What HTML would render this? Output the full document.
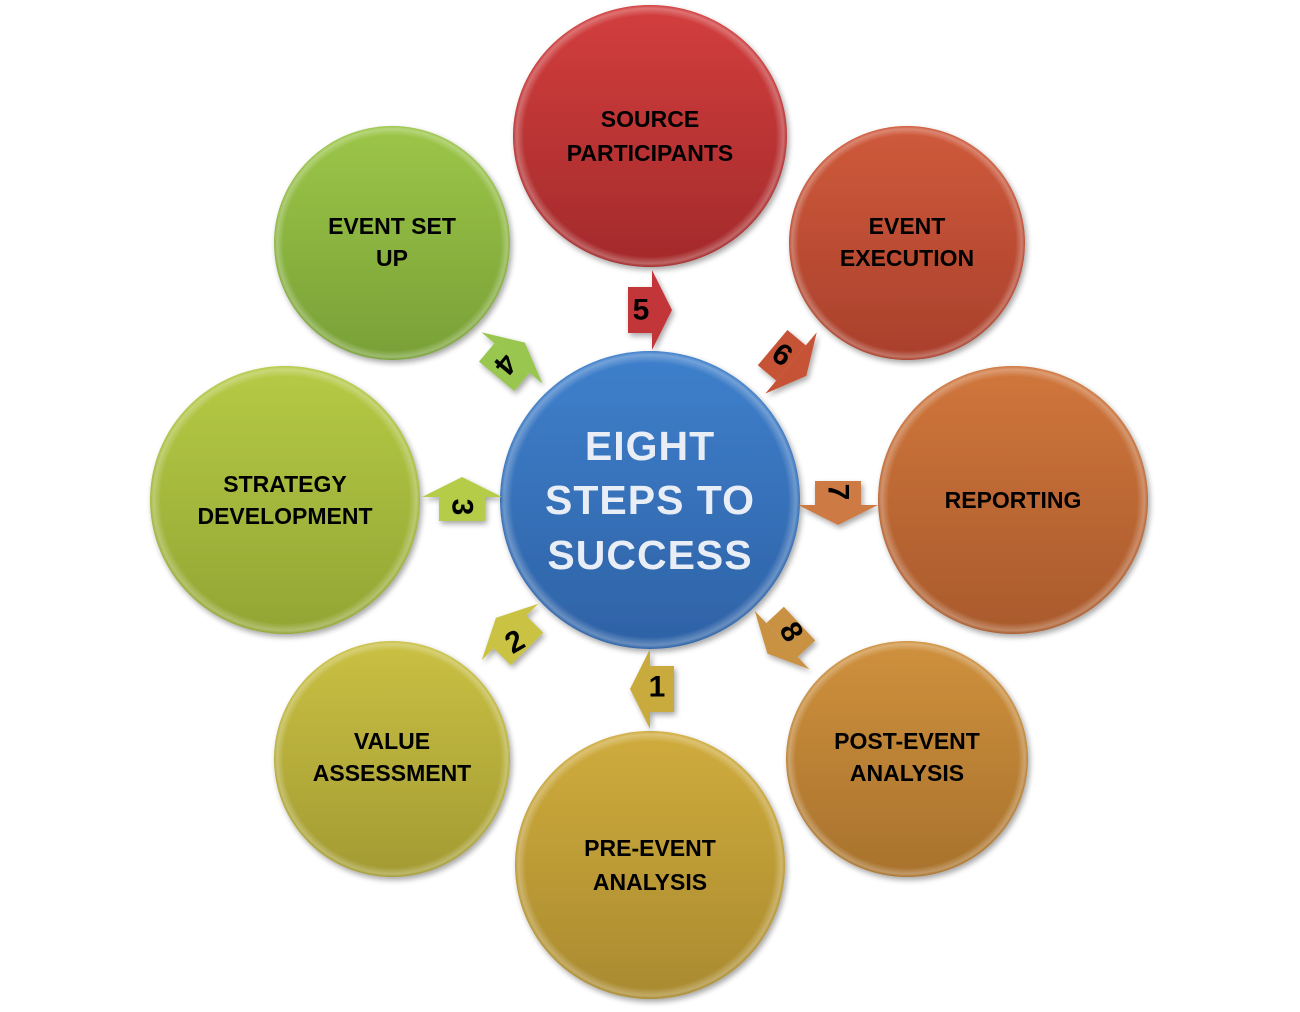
<!DOCTYPE html>
<html><head><meta charset="utf-8"><style>
html,body{margin:0;padding:0;background:#fff;width:1300px;height:1012px;overflow:hidden}
svg{display:block}
.l{font-family:"Liberation Sans",Arial,sans-serif;font-weight:bold;font-size:23px;fill:#000;text-anchor:middle}
.n{font-family:"Liberation Sans",Arial,sans-serif;font-weight:bold;font-size:30px;fill:#000;text-anchor:middle;dominant-baseline:central}
.c{font-family:"Liberation Sans",Arial,sans-serif;font-weight:bold;font-size:41px;fill:#e9eef6;text-anchor:middle;letter-spacing:1px}
</style></head><body>
<svg width="1300" height="1012" viewBox="0 0 1300 1012" xmlns="http://www.w3.org/2000/svg">
<defs>
<radialGradient id="gloss" cx="0.5" cy="0.5" r="0.5">
<stop offset="0.92" stop-color="#fff" stop-opacity="0"/>
<stop offset="0.975" stop-color="#fff" stop-opacity="0.28"/>
<stop offset="1" stop-color="#fff" stop-opacity="0"/>
</radialGradient>
<linearGradient id="gB" x1="0" y1="0" x2="0" y2="1"><stop offset="0" stop-color="#3f80cc"/><stop offset="1" stop-color="#2e62a6"/></linearGradient>
<linearGradient id="g5" x1="0" y1="0" x2="0" y2="1"><stop offset="0" stop-color="#d33e3e"/><stop offset="1" stop-color="#a32a2b"/></linearGradient>
<linearGradient id="g6" x1="0" y1="0" x2="0" y2="1"><stop offset="0" stop-color="#cf5a3b"/><stop offset="1" stop-color="#a9402c"/></linearGradient>
<linearGradient id="g7" x1="0" y1="0" x2="0" y2="1"><stop offset="0" stop-color="#d0763c"/><stop offset="1" stop-color="#a95a2c"/></linearGradient>
<linearGradient id="g8" x1="0" y1="0" x2="0" y2="1"><stop offset="0" stop-color="#cf913d"/><stop offset="1" stop-color="#a8722d"/></linearGradient>
<linearGradient id="g1" x1="0" y1="0" x2="0" y2="1"><stop offset="0" stop-color="#d0ac3d"/><stop offset="1" stop-color="#a98a2f"/></linearGradient>
<linearGradient id="g2" x1="0" y1="0" x2="0" y2="1"><stop offset="0" stop-color="#c9c043"/><stop offset="1" stop-color="#a39b33"/></linearGradient>
<linearGradient id="g3" x1="0" y1="0" x2="0" y2="1"><stop offset="0" stop-color="#b6ca45"/><stop offset="1" stop-color="#92a534"/></linearGradient>
<linearGradient id="g4" x1="0" y1="0" x2="0" y2="1"><stop offset="0" stop-color="#9cc648"/><stop offset="1" stop-color="#78a037"/></linearGradient>
<filter id="sh" x="-10%" y="-10%" width="120%" height="120%"><feGaussianBlur in="SourceAlpha" stdDeviation="3"/><feOffset dx="2" dy="3"/><feComponentTransfer><feFuncA type="linear" slope="0.35"/></feComponentTransfer><feMerge><feMergeNode/><feMergeNode in="SourceGraphic"/></feMerge></filter>
<g id="arr"><rect x="-24" y="-23" width="24" height="46"/><polygon points="0,-40 20,0 0,40"/></g>
</defs>

<g filter="url(#sh)">
<ellipse cx="650" cy="136" rx="137" ry="131" fill="url(#g5)"/>
<ellipse cx="907" cy="243" rx="118" ry="117" fill="url(#g6)"/>
<ellipse cx="1013" cy="500" rx="135" ry="134" fill="url(#g7)"/>
<ellipse cx="907" cy="759" rx="121" ry="118" fill="url(#g8)"/>
<ellipse cx="650" cy="865" rx="135" ry="134" fill="url(#g1)"/>
<ellipse cx="392" cy="759" rx="118" ry="118" fill="url(#g2)"/>
<ellipse cx="285" cy="500" rx="135" ry="134" fill="url(#g3)"/>
<ellipse cx="392" cy="243" rx="118" ry="117" fill="url(#g4)"/>
<ellipse cx="650" cy="500" rx="150" ry="149" fill="url(#gB)"/>
</g>
<g fill="url(#gloss)">
<ellipse cx="650" cy="136" rx="137" ry="131"/>
<ellipse cx="907" cy="243" rx="118" ry="117"/>
<ellipse cx="1013" cy="500" rx="135" ry="134"/>
<ellipse cx="907" cy="759" rx="121" ry="118"/>
<ellipse cx="650" cy="865" rx="135" ry="134"/>
<ellipse cx="392" cy="759" rx="118" ry="118"/>
<ellipse cx="285" cy="500" rx="135" ry="134"/>
<ellipse cx="392" cy="243" rx="118" ry="117"/>
<ellipse cx="650" cy="500" rx="150" ry="149"/>
</g>

<g filter="url(#sh)">
<use href="#arr" transform="translate(652,310)" fill="#c23638"/>
<use href="#arr" transform="translate(791,363) rotate(40)" fill="#c65235"/>
<use href="#arr" transform="translate(838,505) rotate(90)" fill="#cd7a45"/>
<use href="#arr" transform="translate(782,640) rotate(137)" fill="#c99143"/>
<use href="#arr" transform="translate(650,689) rotate(180)" fill="#c9aa3d"/>
<use href="#arr" transform="translate(510,632) rotate(-135)" fill="#c9c243"/>
<use href="#arr" transform="translate(462,497) rotate(-90)" fill="#b5cc4a"/>
<use href="#arr" transform="translate(512,358) rotate(-50)" fill="#98c650"/>
</g>
<text class="n" x="641" y="310">5</text>
<text class="n" transform="translate(782,355) rotate(35)">6</text>
<text class="n" transform="translate(838,492) rotate(90)">7</text>
<text class="n" transform="translate(791,632) rotate(60)">8</text>
<text class="n" x="657" y="687">1</text>
<text class="n" transform="translate(515,642) rotate(-30)">2</text>
<text class="n" transform="translate(462,507) rotate(90)">3</text>
<text class="n" transform="translate(505,364) rotate(130)">4</text>

<text class="l" x="650" y="127">SOURCE</text>
<text class="l" x="650" y="161">PARTICIPANTS</text>
<text class="l" x="907" y="234">EVENT</text>
<text class="l" x="907" y="266">EXECUTION</text>
<text class="l" x="1013" y="508">REPORTING</text>
<text class="l" x="907" y="749">POST-EVENT</text>
<text class="l" x="907" y="781">ANALYSIS</text>
<text class="l" x="650" y="856">PRE-EVENT</text>
<text class="l" x="650" y="890">ANALYSIS</text>
<text class="l" x="392" y="749">VALUE</text>
<text class="l" x="392" y="781">ASSESSMENT</text>
<text class="l" x="285" y="492">STRATEGY</text>
<text class="l" x="285" y="524">DEVELOPMENT</text>
<text class="l" x="392" y="234">EVENT SET</text>
<text class="l" x="392" y="266">UP</text>

<text class="c" x="650" y="460">EIGHT</text>
<text class="c" x="650" y="514">STEPS TO</text>
<text class="c" x="650" y="569">SUCCESS</text>
</svg>
</body></html>
